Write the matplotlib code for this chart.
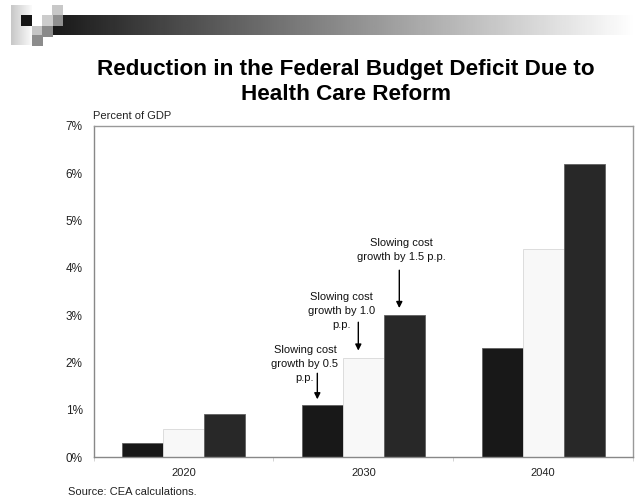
import numpy as np
import matplotlib
matplotlib.use("Agg")
import matplotlib.pyplot as plt
from matplotlib.patches import Rectangle

plt.rcParams['font.family'] = ['Liberation Sans', 'DejaVu Sans']

# data (percent of GDP)
years = ["2020", "2030", "2040"]
slow_05 = [0.3, 1.1, 2.3]
slow_10 = [0.6, 2.1, 4.4]
slow_15 = [0.9, 3.0, 6.2]
series = [slow_05, slow_10, slow_15]
bar_colors = ["#181818", "#f8f8f8", "#282828"]
edge_colors = ["#606060", "#d8d8d8", "#606060"]
y_ticks = [0, 1, 2, 3, 4, 5, 6, 7]
notes = ["Slowing cost\ngrowth by 0.5\np.p.",
         "Slowing cost\ngrowth by 1.0\np.p.",
         "Slowing cost\ngrowth by 1.5 p.p."]

fig = plt.figure(figsize=(6.36, 5.01), dpi=100)

# header decoration (gradient band + squares)
deco = fig.add_axes([0, 0, 1, 1], zorder=-1)
deco.axis("off")
grad = np.linspace(0.1, 1.0, 256).reshape(1, -1)
deco.imshow(grad, cmap="gray", vmin=0, vmax=1, aspect="auto",
            extent=(52, 636, 35, 15), interpolation="bilinear")
fade = np.linspace(0.78, 0.98, 64).reshape(1, -1)
deco.imshow(fade, cmap="gray", vmin=0, vmax=1, aspect="auto",
            extent=(11, 32, 45, 5), interpolation="bilinear")
squares = [(21, 15, "#151515"), (32, 26, "#c4c4c4"), (42, 26, "#8a8a8a"),
           (32, 35, "#8c8c8c"), (52, 5, "#c8c8c8"), (52, 15, "#909090"),
           (42, 15, "#cccccc")]
for sx, sy, c in squares:
    deco.add_patch(Rectangle((sx, sy), 10.5, 10.5, color=c, lw=0))
deco.set_xlim(0, 636)
deco.set_ylim(501, 0)

ax = fig.add_axes([0.1473, 1 - 457 / 501, 0.9953 - 0.1473, (457 - 126) / 501])

x = np.arange(len(years))
w = 0.228
for i, vals in enumerate(series):
    ax.bar(x + (i - 1) * w, vals, width=w, color=bar_colors[i],
           edgecolor=edge_colors[i], linewidth=0.6, zorder=2)

ax.set_xlim(-0.5, 2.5)
ax.set_ylim(0, 7)
ax.set_yticks(y_ticks)
ax.set_yticklabels([f"{t}%" for t in y_ticks], fontsize=8.5, color="#222222")
ax.set_xticks(x)
ax.set_xticklabels(years, fontsize=8, color="#222222")
ax.set_xticks([-0.5, 0.5, 1.5, 2.5], minor=True)
ax.tick_params(axis="x", which="major", length=0, pad=8)
ax.tick_params(axis="x", which="minor", length=3, color="#cccccc")
ax.tick_params(axis="y", length=0, pad=8)
for s in ax.spines.values():
    s.set_color("#999999")
    s.set_linewidth(1.0)
ax.spines["left"].set_color("#888888")
ax.spines["bottom"].set_color("#888888")

# annotations for the 2030 group
tip_gap = [0.12, 0.15, 0.15]
arrow_len = [0.55, 0.6, 0.8]
for i, txt in enumerate(notes):
    bx = x[1] + (i - 1) * w - 0.028
    top = series[i][1] + tip_gap[i]
    ax.annotate("", xy=(bx, top), xytext=(bx, top + arrow_len[i]),
                arrowprops=dict(arrowstyle="-|>", color="black", lw=1.0,
                                mutation_scale=9, shrinkA=0, shrinkB=0))
tx = [0.675, 0.879, 1.213]
ty = [1.97, 3.09, 4.38]
for i, txt in enumerate(notes):
    ax.text(tx[i], ty[i], txt, ha="center", va="center", fontsize=8,
            linespacing=1.5, color="#111111")

fig.text(346 / 636, 1 - 82 / 501,
         "Reduction in the Federal Budget Deficit Due to\nHealth Care Reform",
         ha="center", va="center", fontsize=16.2, fontweight="bold",
         linespacing=1.3)
fig.text(93 / 636, 1 - 116 / 501, "Percent of GDP", ha="left", va="center",
         fontsize=8, color="#222222")
fig.text(68 / 636, 1 - 492 / 501, "Source: CEA calculations.", ha="left",
         va="center", fontsize=8, color="#222222")

fig.savefig("out.png", dpi=100)
